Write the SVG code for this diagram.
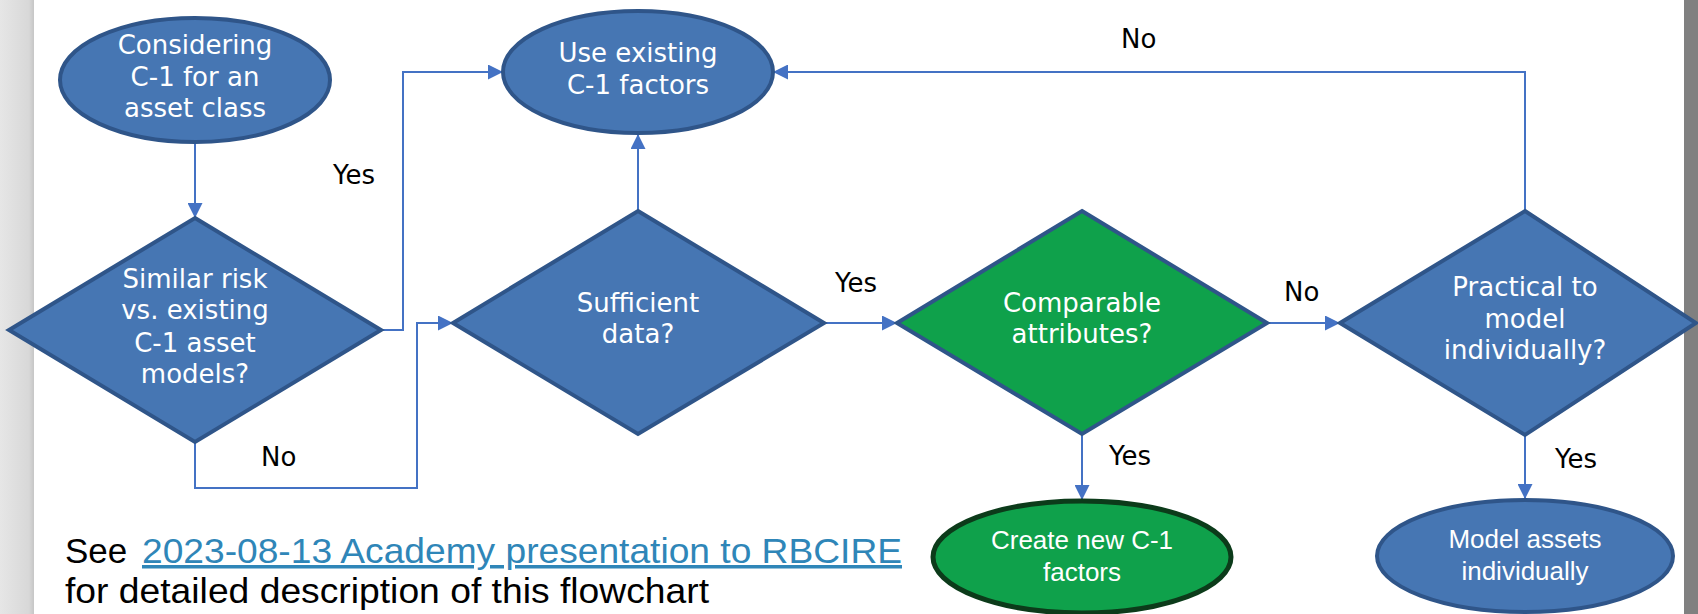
<svg xmlns="http://www.w3.org/2000/svg" width="1698" height="614" viewBox="0 0 1698 614">
  <defs>
    <linearGradient id="leftStrip" x1="0" y1="0" x2="1" y2="0">
      <stop offset="0" stop-color="#e6e6e6"/>
      <stop offset="0.85" stop-color="#d8d8d8"/>
      <stop offset="1" stop-color="#c6c6c6"/>
    </linearGradient>
    <marker id="arrow" markerUnits="userSpaceOnUse" markerWidth="15" markerHeight="15" refX="15" refY="7.5" orient="auto">
      <path d="M0,0 L15,7.5 L0,15 Z" fill="#4472C4"/>
    </marker>
    <style>
      .blue { fill: #4676B3; stroke: #2F5589; stroke-width: 4; }
      .green { fill: #0FA14B; stroke: #2F5589; stroke-width: 4; }
      .greenEllipse { fill: #0FA14B; stroke: #0C3B1A; stroke-width: 5; }
      .conn { fill: none; stroke: #4472C4; stroke-width: 2; marker-end: url(#arrow); }
      .nt { font-family: "DejaVu Sans", "Open Sans", sans-serif; font-size: 26px; fill: #ffffff; text-anchor: middle; }
      .at { font-family: "Liberation Sans", Arial, sans-serif; font-size: 26px; fill: #ffffff; text-anchor: middle; }
      .lbl { font-family: "DejaVu Sans", "Open Sans", sans-serif; font-size: 26px; fill: #000000; }
      .foot { font-family: "Liberation Sans", Arial, sans-serif; font-size: 35px; fill: #000000; }
      .link { font-family: "Liberation Sans", Arial, sans-serif; font-size: 35px; fill: #2F86B8; }
    </style>
  </defs>

  <rect x="0" y="0" width="1698" height="614" fill="#ffffff"/>
  <rect x="0" y="0" width="34" height="614" fill="url(#leftStrip)"/>
  <rect x="1684" y="0" width="14" height="614" fill="#808080"/>

  <g id="connectors">
    <path class="conn" d="M195,142 L195,218"/>
    <path class="conn" d="M381,330 L403,330 L403,72 L503,72"/>
    <path class="conn" d="M195,442 L195,488 L417,488 L417,323 L453,323"/>
    <path class="conn" d="M638,211 L638,134"/>
    <path class="conn" d="M824,323 L897,323"/>
    <path class="conn" d="M1267,323 L1340,323"/>
    <path class="conn" d="M1082,433 L1082,500"/>
    <path class="conn" d="M1525,211 L1525,72 L773,72"/>
    <path class="conn" d="M1525,435 L1525,499"/>
  </g>

  <g id="labels">
    <text class="lbl" x="333" y="184">Yes</text>
    <text class="lbl" x="261" y="466">No</text>
    <text class="lbl" x="835" y="292">Yes</text>
    <text class="lbl" x="1284" y="301">No</text>
    <text class="lbl" x="1121" y="48">No</text>
    <text class="lbl" x="1109" y="465">Yes</text>
    <text class="lbl" x="1555" y="468">Yes</text>
  </g>

  <g id="start">
    <ellipse class="blue" cx="195" cy="80" rx="135" ry="62"/>
    <text class="nt" x="195" y="54">Considering</text>
    <text class="nt" x="195" y="86">C-1 for an</text>
    <text class="nt" x="195" y="117">asset class</text>
  </g>

  <g id="use-existing">
    <ellipse class="blue" cx="638" cy="72" rx="135" ry="61"/>
    <text class="nt" x="638" y="62">Use existing</text>
    <text class="nt" x="638" y="94">C-1 factors</text>
  </g>

  <g id="similar-risk">
    <polygon class="blue" points="195,218 381,330 195,442 9,330"/>
    <text class="nt" x="195" y="288">Similar risk</text>
    <text class="nt" x="195" y="319">vs. existing</text>
    <text class="nt" x="195" y="352">C-1 asset</text>
    <text class="nt" x="195" y="383">models?</text>
  </g>

  <g id="sufficient-data">
    <polygon class="blue" points="638,211 824,323 638,434 453,323"/>
    <text class="nt" x="638" y="312">Sufficient</text>
    <text class="nt" x="638" y="343">data?</text>
  </g>

  <g id="comparable">
    <polygon class="green" points="1082,211 1267,323 1082,434 897,323"/>
    <text class="nt" x="1082" y="312">Comparable</text>
    <text class="nt" x="1082" y="343">attributes?</text>
  </g>

  <g id="practical">
    <polygon class="blue" points="1525,211 1696,323 1525,435 1340,323"/>
    <text class="nt" x="1525" y="296">Practical to</text>
    <text class="nt" x="1525" y="328">model</text>
    <text class="nt" x="1525" y="359">individually?</text>
  </g>

  <g id="create-new">
    <ellipse class="greenEllipse" cx="1082" cy="557" rx="149" ry="56"/>
    <text class="at" x="1082" y="549">Create new C-1</text>
    <text class="at" x="1082" y="581">factors</text>
  </g>

  <g id="model-assets">
    <ellipse class="blue" cx="1525" cy="556" rx="148" ry="56"/>
    <text class="at" x="1525" y="548">Model assets</text>
    <text class="at" x="1525" y="580">individually</text>
  </g>

  <g id="footnote">
    <text class="foot" x="65" y="563">See</text>
    <text class="link" x="142" y="563" textLength="760" lengthAdjust="spacingAndGlyphs" text-decoration="underline">2023-08-13 Academy presentation to RBCIRE</text>
    <text class="foot" x="65" y="603" textLength="644" lengthAdjust="spacingAndGlyphs">for detailed description of this flowchart</text>
  </g>
</svg>
